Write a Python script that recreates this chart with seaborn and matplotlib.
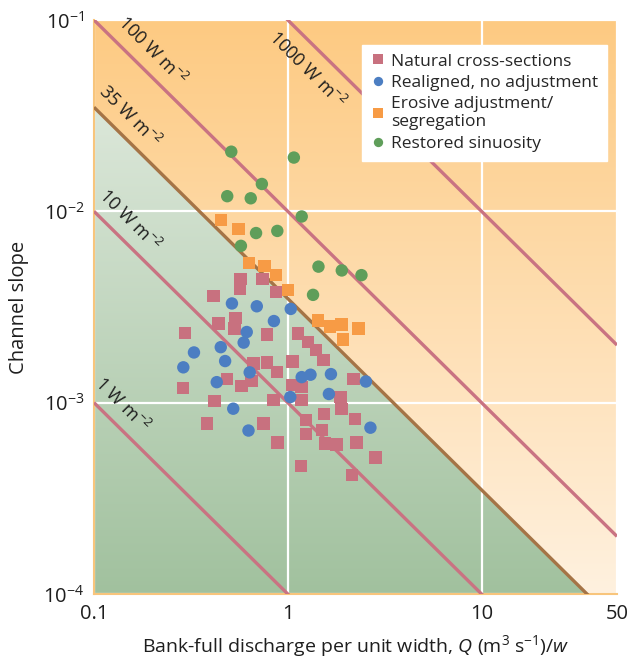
import numpy as np
import pandas as pd
import seaborn as sns
import matplotlib.pyplot as plt
from matplotlib.colors import to_rgb

# values (Q/w in m2 s-1, slope)
natural_q = [0.571, 0.741, 0.565, 0.413, 0.869, 0.536, 0.439, 0.53, 0.294, 0.78,
             1.13, 1.27, 1.40, 1.53, 1.06, 0.78, 0.665, 0.88, 0.487, 0.576,
             0.65, 0.288, 1.05, 1.18, 2.18, 1.87, 0.846, 1.18, 0.418, 1.89,
             1.54, 2.23, 1.24, 0.383, 0.75, 1.50, 1.24, 0.887, 1.56, 1.78,
             2.26, 2.84, 1.17, 2.14]
natural_s = [0.00442, 0.00442, 0.00392, 0.0036, 0.00378, 0.00277, 0.00259, 0.00244, 0.00232, 0.00227,
             0.0023, 0.00208, 0.00189, 0.00167, 0.00164, 0.00162, 0.0016, 0.00145, 0.00133, 0.00122,
             0.0013, 0.00119, 0.00124, 0.00121, 0.00133, 0.00107, 0.00103, 0.00103, 0.00102, 0.000925,
             0.00087, 0.00082, 0.00081, 0.00078, 0.00078, 0.000718, 0.000684, 0.00062, 0.000613, 0.000605,
             0.00062, 0.000518, 0.000466, 0.00042]

realigned_q = [0.515, 0.692, 1.036, 0.848, 0.614, 0.592, 0.451, 0.328, 0.475, 0.289,
               0.636, 0.43, 1.18, 1.31, 1.67, 2.53, 1.63, 1.03, 0.523, 0.627, 2.67]
realigned_s = [0.0033, 0.00319, 0.00309, 0.00267, 0.00234, 0.00206, 0.00195, 0.00183, 0.00165, 0.00153,
               0.00144, 0.00128, 0.00136, 0.0014, 0.00141, 0.00129, 0.00111, 0.00107, 0.00093, 0.000715, 0.00074]

erosive_q = [0.453, 0.556, 0.629, 0.759, 0.869, 1.0, 1.43, 1.65, 1.89, 2.32, 1.93]
erosive_s = [0.00903, 0.0081, 0.00536, 0.00518, 0.00464, 0.00387, 0.00269, 0.0025, 0.00256, 0.00244, 0.00214]

restored_q = [0.511, 1.075, 0.735, 0.487, 0.644, 1.18, 0.686, 0.883, 0.573, 1.44, 1.90, 2.40, 1.35]
restored_s = [0.0205, 0.0191, 0.0139, 0.012, 0.0117, 0.0094, 0.0077, 0.0079, 0.0066, 0.00514, 0.00491, 0.00464, 0.00366]

groups = ["Natural cross-sections", "Realigned, no adjustment",
          "Erosive adjustment/\nsegregation", "Restored sinuosity"]

# stream power lines (W m-2): slope = power / (rho g * q)
powers = [1, 10, 35, 100, 1000]
power_labels = ["1 W m$^{-2}$", "10 W m$^{-2}$", "35 W m$^{-2}$", "100 W m$^{-2}$", "1000 W m$^{-2}$"]
label_q = [0.12, 0.131, 0.131, 0.17, 1.51]
rho_g = 1e4

xlim = (0.1, 50)
ylim = (1e-4, 1e-1)

df = pd.concat([
    pd.DataFrame({"q": natural_q, "slope": natural_s, "group": groups[0]}),
    pd.DataFrame({"q": realigned_q, "slope": realigned_s, "group": groups[1]}),
    pd.DataFrame({"q": erosive_q, "slope": erosive_s, "group": groups[2]}),
    pd.DataFrame({"q": restored_q, "slope": restored_s, "group": groups[3]}),
])

sns.set_theme(style="white")
plt.rcParams["font.family"] = ["Open Sans", "DejaVu Sans"]
plt.rcParams["mathtext.fontset"] = "custom"
plt.rcParams["mathtext.rm"] = "Open Sans"
plt.rcParams["mathtext.it"] = "Open Sans:italic"

fig = plt.figure(figsize=(6.28, 6.58), dpi=100)
pos = [94 / 628, 64 / 658, 523 / 628, 574 / 658]

# gradient background: orange above the 35 W m-2 line, green below
bg = fig.add_axes(pos)
bg.set_axis_off()
n = 900
U, V = np.meshgrid(np.linspace(0, 1, n), np.linspace(0, 1, n))
logq = np.log10(xlim[0]) + U * (np.log10(xlim[1]) - np.log10(xlim[0]))
logs = np.log10(ylim[0]) + V * (np.log10(ylim[1]) - np.log10(ylim[0]))
above = logs > np.log10(35 / rho_g) - logq
o_top, o_bot = np.array(to_rgb("#fdca82")), np.array(to_rgb("#fff1df"))
g_top, g_bot = np.array(to_rgb("#e6eee4")), np.array(to_rgb("#a1c19e"))
Vx = V[..., None]
orange = o_top * Vx + o_bot * (1 - Vx)
green = g_top * Vx + g_bot * (1 - Vx)
img = np.where(above[..., None], orange, green)
bg.imshow(img, origin="lower", extent=[0, 1, 0, 1], aspect="auto")
bg.set_xlim(0, 1)
bg.set_ylim(0, 1)

ax = fig.add_axes(pos)
ax.set_zorder(1)
ax.patch.set_alpha(0)
ax.set_xscale("log")
ax.set_yscale("log")

ax.grid(True, which="major", color="white", lw=1.6, zorder=1)

line_q = np.array(xlim)
for p, lab, lq in zip(powers, power_labels, label_q):
    col = "#a57446" if p == 35 else "#c97382"
    ax.plot(line_q, p / (rho_g * line_q), color=col, lw=2.4, zorder=3, solid_capstyle="butt")
    off = -11 if p == 1000 else 9.5
    ax.annotate(lab, xy=(lq, p / (rho_g * lq)), xytext=(off, off), textcoords="offset points",
                rotation=-45, rotation_mode="anchor", ha="center", va="center",
                fontsize=13, color="#1e1e1e", zorder=4)

sns.scatterplot(data=df, x="q", y="slope", hue="group", style="group",
                palette=dict(zip(groups, ["#c8717f", "#4c7ec2", "#f79b45", "#5f9e5a"])),
                markers=dict(zip(groups, ["s", "o", "s", "o"])),
                s=80, linewidth=0, ax=ax, zorder=5)

ax.set_xlim(*xlim)
ax.set_ylim(*ylim)
ax.set_xticks([0.1, 1, 10, 50])
ax.set_xticklabels(["0.1", "1", "10", "50"])
ax.set_yticks([1e-4, 1e-3, 1e-2, 1e-1])
ax.minorticks_off()
ax.tick_params(length=0, labelsize=14.5, colors="#1e1e1e", pad=7)

for side in ["top", "right"]:
    ax.spines[side].set_visible(False)
for side in ["left", "bottom"]:
    ax.spines[side].set_color("#f8c57c")
    ax.spines[side].set_linewidth(1.5)

ax.set_xlabel("Bank-full discharge per unit width, $Q$ (m$^3$ s$^{-1}$)/$w$",
              fontsize=14, color="#1e1e1e", labelpad=7)
ax.set_ylabel("Channel slope", fontsize=14.5, color="#1e1e1e", labelpad=10)

leg = ax.legend(loc="upper left", bbox_to_anchor=(0.512, 0.957), frameon=True,
                fontsize=12.5, markerscale=0.75, handletextpad=0.3, handlelength=0.9,
                borderpad=0.5, labelspacing=0.3, fancybox=False, borderaxespad=0)
leg.get_frame().set_facecolor("white")
leg.get_frame().set_edgecolor("white")
leg.get_frame().set_alpha(1)
leg.set_zorder(10)

plt.savefig("out.png", dpi=100)
